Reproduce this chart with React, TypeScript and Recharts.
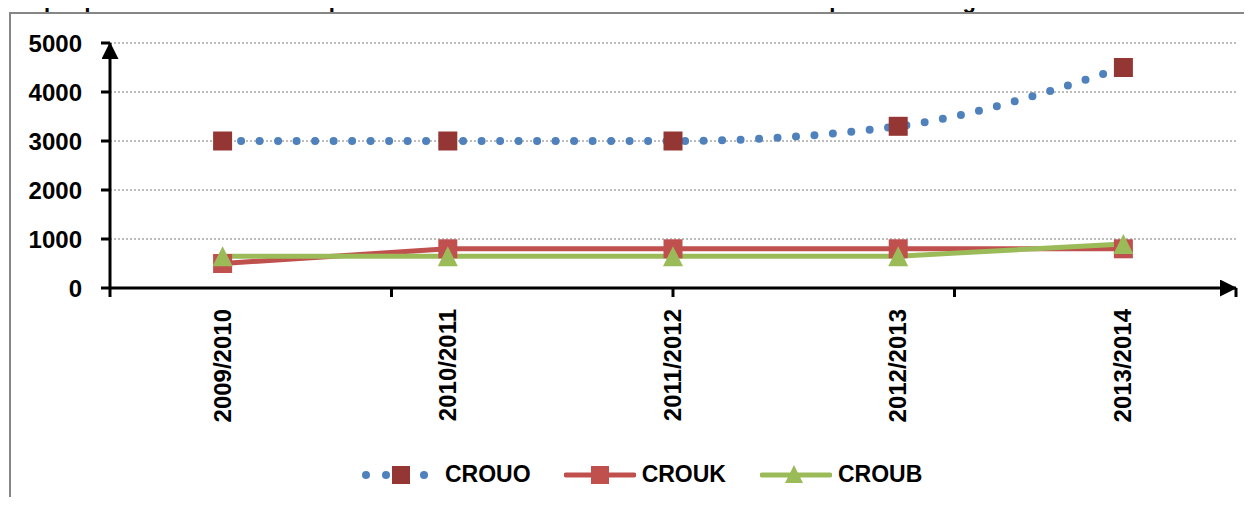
import React from "react";
import {
  ComposedChart,
  Line,
  XAxis,
  YAxis,
  CartesianGrid,
} from "recharts";

const years = ["2009/2010", "2010/2011", "2011/2012", "2012/2013", "2013/2014"];
const crouo = [3000, 3000, 3000, 3300, 4500];
const crouk = [500, 800, 800, 800, 800];
const croub = [650, 650, 650, 650, 900];
const yTicks = [0, 1000, 2000, 3000, 4000, 5000];
const boundaryTicks = [0, 1, 2, 3, 4];

const rows = years.map((year, i) => ({
  year,
  CROUO: crouo[i],
  CROUK: crouk[i],
  CROUB: croub[i],
}));

const FONT = '"Liberation Sans", Arial, sans-serif';

const SquareDot = (props: any) => {
  const { cx, cy, fill, size } = props;
  if (cx == null || cy == null) return null;
  return <rect x={cx - size / 2} y={cy - size / 2} width={size} height={size} fill={fill} />;
};

const TriangleDot = (props: any) => {
  const { cx, cy } = props;
  if (cx == null || cy == null) return null;
  return (
    <polygon
      points={`${cx},${cy - 10} ${cx - 10},${cy + 10} ${cx + 10},${cy + 10}`}
      fill="#9BBB59"
    />
  );
};

const YearTick = (props: any) => {
  const { x, y, payload } = props;
  const tx = x + 8;
  const ty = y + 10;
  return (
    <text
      x={tx}
      y={ty}
      transform={`rotate(-90, ${tx}, ${ty})`}
      textAnchor="end"
      fontFamily={FONT}
      fontWeight="bold"
      fontSize={24}
      fill="#000"
    >
      {payload.value}
    </text>
  );
};

const NoTick = () => <g />;

const LegendIcon = ({ kind }: { kind: string }) => {
  if (kind === "CROUO") {
    return (
      <svg width={72} height={24} style={{ display: "block" }}>
        <circle cx={8} cy={12} r={4} fill="#4F81BD" />
        <circle cx={28} cy={12} r={4} fill="#4F81BD" />
        <circle cx={66} cy={12} r={4} fill="#4F81BD" />
        <rect x={34} y={3} width={18} height={18} fill="#943634" />
      </svg>
    );
  }
  if (kind === "CROUK") {
    return (
      <svg width={72} height={24} style={{ display: "block" }}>
        <line x1={2} y1={12} x2={70} y2={12} stroke="#C0504D" strokeWidth={5} strokeLinecap="round" />
        <rect x={27} y={3} width={18} height={18} fill="#C0504D" />
      </svg>
    );
  }
  return (
    <svg width={72} height={24} style={{ display: "block" }}>
      <line x1={2} y1={12} x2={70} y2={12} stroke="#9BBB59" strokeWidth={5} strokeLinecap="round" />
      <polygon points="34,2 25,20 43,20" fill="#9BBB59" />
    </svg>
  );
};

export default function App() {
  return (
    <div
      style={{
        position: "relative",
        width: 1252,
        height: 505,
        margin: -8,
        overflow: "hidden",
        background: "#fff",
        fontFamily: FONT,
      }}
    >
      <svg width={1252} height={12} style={{ position: "absolute", left: 0, top: 0 }}>
        <text x={6} y={8} fontFamily={FONT} fontWeight="bold" fontSize={22} fill="#000">
          Graphique 4 : Evolution des capacités d'accueil des restaurants universitaires par centre régional
        </text>
      </svg>
      <div
        style={{
          position: "absolute",
          left: 9,
          top: 12,
          right: 0,
          bottom: 0,
          borderLeft: "2px solid #868686",
          borderTop: "2px solid #868686",
        }}
      />
      <div style={{ position: "absolute", left: 0, top: 0 }}>
        <ComposedChart
          width={1252}
          height={505}
          data={rows}
          margin={{ top: 43, right: 16, left: 10, bottom: 58 }}
        >
          <defs>
            <marker
              id="arrowHead"
              viewBox="0 0 17 17"
              refX={16}
              refY={8.5}
              markerWidth={17}
              markerHeight={17}
              markerUnits="userSpaceOnUse"
              orient="auto-start-reverse"
            >
              <path d="M0,0 L17,8.5 L0,17 z" fill="#000" />
            </marker>
          </defs>
          <CartesianGrid
            xAxisId="b"
            vertical={false}
            stroke="#7a7a7a"
            strokeDasharray="2 2"
          />
          <XAxis
            xAxisId="b"
            dataKey="year"
            type="category"
            scale="band"
            interval={0}
            axisLine={false}
            tickLine={false}
            tickSize={0}
            tick={<YearTick />}
            height={150}
          />
          <XAxis
            xAxisId="a"
            type="number"
            domain={[0, 5]}
            allowDataOverflow
            ticks={boundaryTicks}
            tick={NoTick}
            tickSize={9}
            tickLine={{ stroke: "#000", strokeWidth: 3 }}
            axisLine={{ stroke: "#000", strokeWidth: 3, markerEnd: "url(#arrowHead)" }}
            height={9}
          />
          <YAxis
            type="number"
            domain={[0, 5000]}
            ticks={yTicks}
            width={100}
            tickSize={9}
            tickMargin={19}
            tickLine={{ stroke: "#000", strokeWidth: 3 }}
            axisLine={{ stroke: "#000", strokeWidth: 3, markerStart: "url(#arrowHead)" }}
            tick={{ fill: "#000", fontSize: 24, fontWeight: "bold", fontFamily: FONT }}
          />
          <Line
            xAxisId="b"
            dataKey="CROUO"
            type="monotone"
            stroke="#4F81BD"
            strokeWidth={8}
            strokeDasharray="0 18.5"
            strokeLinecap="round"
            dot={<SquareDot fill="#943634" size={19} />}
            activeDot={false}
            isAnimationActive={false}
          />
          <Line
            xAxisId="b"
            dataKey="CROUK"
            type="linear"
            stroke="#C0504D"
            strokeWidth={5}
            dot={<SquareDot fill="#C0504D" size={19} />}
            activeDot={false}
            isAnimationActive={false}
          />
          <Line
            xAxisId="b"
            dataKey="CROUB"
            type="linear"
            stroke="#9BBB59"
            strokeWidth={5}
            dot={<TriangleDot />}
            activeDot={false}
            isAnimationActive={false}
          />
        </ComposedChart>
      </div>
      <div
        style={{
          position: "absolute",
          left: 358,
          top: 461,
          display: "flex",
          alignItems: "center",
          fontSize: 23,
          fontWeight: "bold",
          color: "#000",
          whiteSpace: "nowrap",
        }}
      >
        <LegendIcon kind="CROUO" />
        <span style={{ marginLeft: 15 }}>CROUO</span>
        <span style={{ marginLeft: 33 }}>
          <LegendIcon kind="CROUK" />
        </span>
        <span style={{ marginLeft: 6 }}>CROUK</span>
        <span style={{ marginLeft: 34 }}>
          <LegendIcon kind="CROUB" />
        </span>
        <span style={{ marginLeft: 6 }}>CROUB</span>
      </div>
    </div>
  );
}
